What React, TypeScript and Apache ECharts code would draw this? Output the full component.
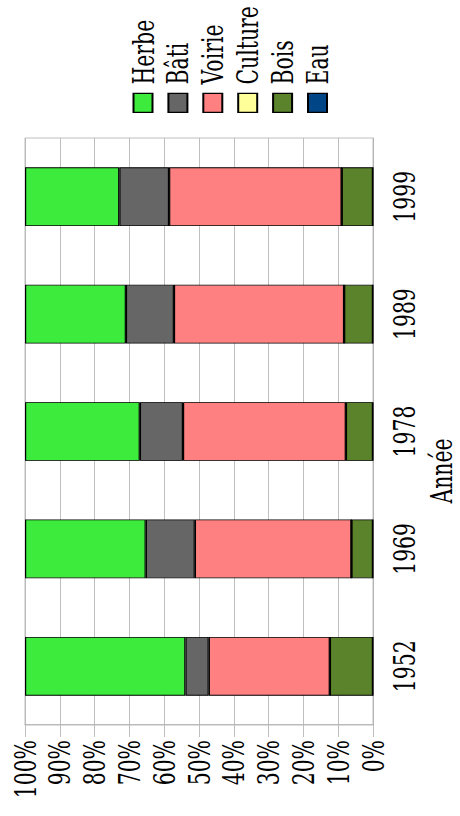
import React, { useEffect, useRef } from 'react';
import * as echarts from 'echarts';

const years = ['1952', '1969', '1978', '1989', '1999'];
const herbe = [46.1, 34.7, 33.0, 29.0, 27.1];
const bati = [6.7, 14.1, 12.4, 13.8, 14.3];
const voirie = [34.8, 45.0, 46.8, 48.9, 49.6];
const culture = [0, 0, 0, 0, 0];
const bois = [12.4, 6.2, 7.8, 8.3, 9.0];
const eau = [0, 0, 0, 0, 0];
const seriesNames = ['Herbe', 'Bâti', 'Voirie', 'Culture', 'Bois', 'Eau'];
const seriesColors = ['#3deb3d', '#666666', '#ff8080', '#ffff99', '#5b832b', '#004586'];
const axisTitle = 'Année';

// horizontal squeeze applied (before rotation) so the serif text is narrow like the reference
const S = 0.68;
const W = 816 / S;
const H = 460;

export default function App() {
  const ref = useRef<HTMLDivElement>(null);
  useEffect(() => {
    const chart = echarts.init(ref.current!, null, { renderer: 'svg' });
    const font = 'DejaVu Serif';
    const fs = 30;
    const data = [herbe, bati, voirie, culture, bois, eau];
    const order = [5, 4, 3, 2, 1, 0];
    const grey = '#b3b3b3';
    chart.setOption({
      animation: false,
      backgroundColor: '#ffffff',
      textStyle: { fontFamily: font },
      grid: {
        left: 91 / S, right: 138 / S, top: 25, bottom: 87,
        show: true, borderColor: grey, borderWidth: 1, backgroundColor: 'transparent',
      },
      legend: {
        orient: 'vertical',
        align: 'left',
        left: 703 / S,
        top: 128,
        padding: 0,
        itemWidth: 19 / S,
        itemHeight: 19,
        itemGap: 4.9,
        icon: 'rect',
        data: seriesNames,
        textStyle: { fontFamily: font, fontSize: fs, color: '#000', padding: [0, 0, 0, 8] },
      },
      xAxis: {
        type: 'category',
        data: years,
        axisLine: { lineStyle: { color: grey } },
        axisTick: { alignWithLabel: true, length: 12, lineStyle: { color: grey } },
        axisLabel: { color: '#000', fontFamily: font, fontSize: fs, margin: 16 },
      },
      yAxis: {
        type: 'value',
        min: 0,
        max: 100,
        interval: 10,
        axisLine: { show: true, lineStyle: { color: grey } },
        axisTick: { show: true, length: 12 / S, lineStyle: { color: grey } },
        axisLabel: { formatter: '{value}%', color: '#000', fontFamily: font, fontSize: fs, margin: 15 / S },
        splitLine: { lineStyle: { color: grey } },
      },
      series: order.map((i) => ({
        name: seriesNames[i],
        type: 'bar',
        stack: 'total',
        data: data[i],
        barWidth: '50%',
        itemStyle: { color: seriesColors[i], borderColor: '#000', borderWidth: 1.2 },
      })),
      graphic: [
        {
          type: 'text',
          x: 345 / S,
          y: 441,
          style: {
            text: axisTitle,
            fontFamily: font,
            fontSize: 30,
            fill: '#000',
            align: 'center',
            verticalAlign: 'middle',
          },
        },
      ],
    });
    return () => chart.dispose();
  }, []);
  return (
    <div style={{ position: 'fixed', left: 0, top: 0, width: 460, height: 816, overflow: 'hidden', background: '#fff' }}>
      <div
        ref={ref}
        style={{
          position: 'absolute', left: 0, top: 0, width: W, height: H,
          transformOrigin: '0 0', transform: `translate(0px, 816px) rotate(-90deg) scaleX(${S})`,
        }}
      />
    </div>
  );
}
